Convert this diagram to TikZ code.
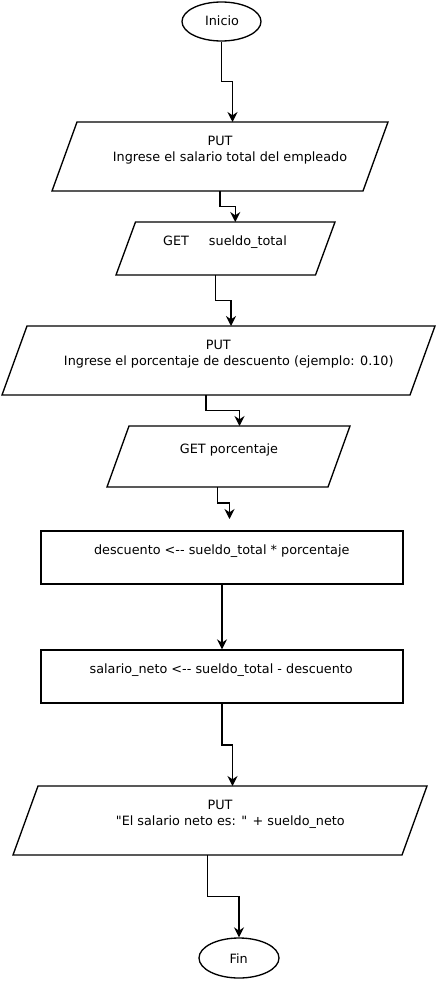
\documentclass[tikz,border=0pt]{standalone}
\usepackage{fontspec}
\setmainfont{DejaVu Sans}
\usetikzlibrary{shapes.geometric,arrows.meta,calc}

\tikzset{every picture/.style={line width=1pt}}
\tikzset{
  term/.style={draw, ellipse, inner sep=0pt},
  frame/.style={rectangle, inner sep=0pt, outer sep=0pt},
  proc/.style={draw, rectangle, inner sep=0pt, minimum width=271.5pt, minimum height=39.75pt},
  txt/.style={anchor=base, inner sep=0pt, align=center, font=\fontsize{9.6}{11.7}\selectfont},
  flow/.style={-{Stealth[length=7.5pt,width=7.5pt,inset=2.5pt]}, to path={(\tikztostart) |- ($(\tikztostart)!0.5!(\tikztotarget)$) -| (\tikztotarget) \tikztonodes}},
}

\begin{document}
\begin{tikzpicture}[x=0.75pt,y=0.75pt,yscale=-1,xscale=1]
\useasboundingbox (0,0) rectangle (437,981);

%Shape: Ellipse [inicio]
\node [term, minimum width=59.25pt, minimum height=29.25pt] (inicio) at (221.5,21.5) {};
%Shape: Parallelogram [put salario]
\node [frame, minimum width=252pt, minimum height=51.75pt] (putSal) at (220,156.5) {};
\draw ($(putSal.north west)+(25,0)$) -- (putSal.north east) -- ($(putSal.south east)+(-25,0)$) -- (putSal.south west) -- cycle;
%Shape: Parallelogram [get sueldo]
\node [frame, minimum width=164.25pt, minimum height=39.75pt] (getSueldo) at (225.5,248.5) {};
\draw ($(getSueldo.north west)+(19.5,0)$) -- (getSueldo.north east) -- ($(getSueldo.south east)+(-19.5,0)$) -- (getSueldo.south west) -- cycle;
%Shape: Parallelogram [put porcentaje]
\node [frame, minimum width=324.75pt, minimum height=51.75pt] (putPor) at (218.5,360.5) {};
\draw ($(putPor.north west)+(25,0)$) -- (putPor.north east) -- ($(putPor.south east)+(-25,0)$) -- (putPor.south west) -- cycle;
%Shape: Parallelogram [get porcentaje]
\node [frame, minimum width=182.25pt, minimum height=45.75pt] (getPor) at (228.5,456.5) {};
\draw ($(getPor.north west)+(22,0)$) -- (getPor.north east) -- ($(getPor.south east)+(-22,0)$) -- (getPor.south west) -- cycle;
\coordinate (finGet) at (229.5,519);
%Shape: Rectangle [descuento]
\node [proc] (desc) at (222,557.5) {};
%Shape: Rectangle [salario neto]
\node [proc] (neto) at (222,676.5) {};
%Shape: Parallelogram [put resultado]
\node [frame, minimum width=310.5pt, minimum height=51.75pt] (putRes) at (220,820.5) {};
\draw ($(putRes.north west)+(25,0)$) -- (putRes.north east) -- ($(putRes.south east)+(-25,0)$) -- (putRes.south west) -- cycle;
%Shape: Ellipse [fin]
\node [term, minimum width=60pt, minimum height=30pt] (fin) at (239,958) {};

%Connectors
\draw [flow] (inicio.south) to ($(putSal.north)+(12.5,0)$);
\draw [flow] (putSal.south) to ($(getSueldo.north)+(9.75,0)$);
\draw [flow] ($(getSueldo.south)+(-9.75,0)$) to ($(putPor.north)+(12.5,0)$);
\draw [flow] ($(putPor.south)+(-12.5,0)$) to ($(getPor.north)+(11,0)$);
\draw [flow] ($(getPor.south)+(-11,0)$) to (finGet);
\draw [flow] (desc.south) to (neto.north);
\draw [flow] (neto.south) to ($(putRes.north)+(12.5,0)$);
\draw [flow] ($(putRes.south)+(-12.5,0)$) to (fin.north);

% Text Node
\node [txt] (tInicio) at (222,26) {Inicio};
% Text Node
\node [txt] (tPutSal) at (220,161) {PUT\\\hspace*{15pt}Ingrese el salario total del empleado};
% Text Node
\node [txt] (tGetSueldo) at (225,245.5) {GET\hspace{15pt}sueldo\_total};
% Text Node
\node [txt] (tPutPor) at (218.3,365.3) {PUT\\\hspace*{15.75pt}Ingrese el porcentaje de descuento (ejemplo: 0.10)};
% Text Node
\node [txt] (tGetPor) at (229,453.3) {GET porcentaje};
% Text Node
\node [txt] (tDesc) at (221.7,554.3) {descuento <-{}- sueldo\_total * porcentaje};
% Text Node
\node [txt] (tNeto) at (221.2,673.3) {salario\_neto <-{}- sueldo\_total - descuento};
% Text Node
\node [txt] (tPutRes) at (220,825) {PUT\\\hspace*{15.5pt}\textquotedbl El salario neto es: \textquotedbl{} + sueldo\_neto};
% Text Node
\node [txt] (tFin) at (238.7,963.3) {Fin};

\end{tikzpicture}
\end{document}
